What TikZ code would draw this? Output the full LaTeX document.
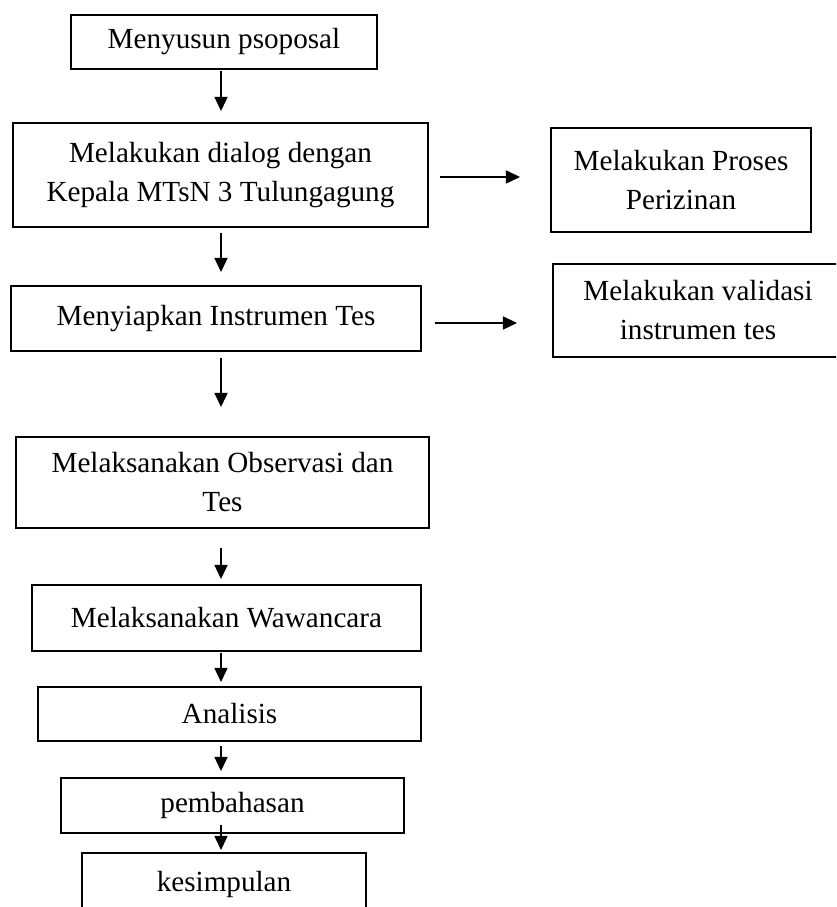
\documentclass[tikz,border=0pt]{standalone}
\usepackage{fontspec}
\setmainfont{Liberation Serif}
\usetikzlibrary{arrows.meta}
\tikzset{
  langkah/.style={draw, line width=1.2pt, align=center, inner sep=0pt, outer sep=0pt,
    font=\fontsize{16.6}{22.2}\selectfont},
  panah/.style={line width=0.6pt, -{Triangle[width=7.5pt,length=8pt]}}
}
\begin{document}
\begin{tikzpicture}
		\useasboundingbox (0,0) rectangle (16.72,18.14);
		\clip (0,0) rectangle (16.72,18.14);
		% kolom kiri
		\node[langkah, minimum width=6.12cm, minimum height=1.08cm] (proposal) at (4.48,17.30) {Menyusun psoposal};
		\node[langkah, minimum width=8.30cm, minimum height=2.08cm] (dialog) at (4.41,14.64) {Melakukan dialog dengan\\Kepala MTsN 3 Tulungagung};
		\node[langkah, minimum width=8.20cm, minimum height=1.30cm] (instrumen) at (4.32,11.77) {Menyiapkan Instrumen Tes};
		\node[langkah, minimum width=8.26cm, minimum height=1.82cm] (observasi) at (4.45,8.49) {Melaksanakan Observasi dan\\Tes};
		\node[langkah, minimum width=7.78cm, minimum height=1.32cm] (wawancara) at (4.53,5.78) {Melaksanakan Wawancara};
		\node[langkah, minimum width=7.66cm, minimum height=1.08cm] (analisis) at (4.59,3.86) {Analisis};
		\node[langkah, minimum width=6.86cm, minimum height=1.10cm] (pembahasan) at (4.65,2.03) {pembahasan};
		\node[langkah, minimum width=5.68cm, minimum height=1.24cm] (kesimpulan) at (4.48,0.46) {kesimpulan};
		% kolom kanan
		\node[langkah, minimum width=5.20cm, minimum height=2.08cm] (perizinan) at (13.62,14.54) {Melakukan Proses\\Perizinan};
		\node[langkah, minimum width=5.80cm, minimum height=1.86cm] (validasi) at (13.96,11.93) {Melakukan validasi\\instrumen tes};
		% panah
		\coordinate (poros) at (4.42,0);
		\draw[panah, shorten <=0.04cm, shorten >=0.24cm] (proposal.south -| poros) -- (dialog.north -| poros);
		\draw[panah, shorten <=0.12cm, shorten >=0.28cm] (dialog.south -| poros) -- (instrumen.north -| poros);
		\draw[panah, shorten <=0.14cm, shorten >=0.60cm] (instrumen.south -| poros) -- (observasi.north -| poros);
		\draw[panah, shorten <=0.40cm, shorten >=0.12cm] (observasi.south -| poros) -- (wawancara.north -| poros);
		\draw[panah, shorten <=0.04cm, shorten >=0.10cm] (wawancara.south -| poros) -- (analisis.north -| poros);
		\draw[panah, shorten <=0.10cm, shorten >=0.14cm] (analisis.south -| poros) -- (pembahasan.north -| poros);
		\draw[panah, shorten <=-0.16cm, shorten >=0.06cm] (pembahasan.south -| poros) -- (kesimpulan.north -| poros);
		\draw[panah, shorten <=0.24cm, shorten >=0.62cm] ([yshift=-0.04cm]dialog.east) -- ([yshift=-0.04cm]perizinan.west |- dialog.east);
		\draw[panah, shorten <=0.28cm, shorten >=0.72cm] ([yshift=-0.09cm]instrumen.east) -- ([yshift=-0.09cm]validasi.west |- instrumen.east);
\end{tikzpicture}
\end{document}
